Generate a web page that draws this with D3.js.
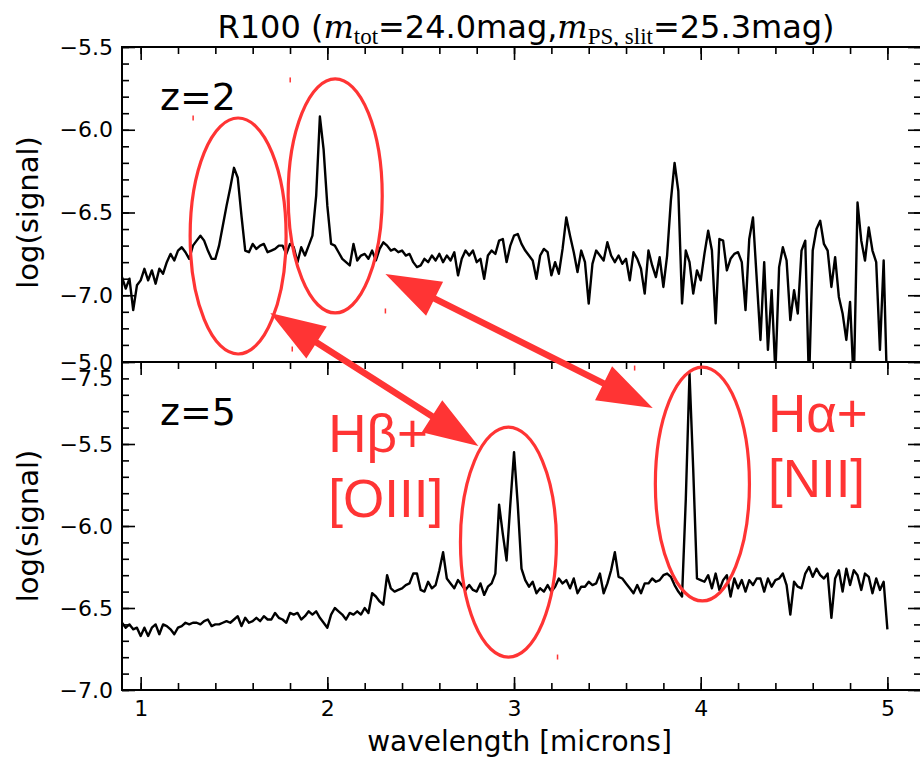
<!DOCTYPE html>
<html>
<head>
<meta charset="utf-8">
<script src="https://cdn.jsdelivr.net/npm/d3@7"></script>
<style>
  html, body { margin: 0; padding: 0; background: #fff; }
  svg { display: block; }
</style>
</head>
<body>
<div id="chart"></div>
<script>
// Wavelength grid of the R100 spectra (microns)
const wavelength = [
  0.90,0.92,0.94,0.96,0.98,1.00,1.02,1.04,1.06,1.08,1.10,1.12,1.14,1.16,1.18,1.20,1.22,1.24,1.26,1.28,
  1.30,1.32,1.34,1.36,1.38,1.40,1.42,1.44,1.46,1.48,1.50,1.52,1.54,1.56,1.58,1.60,1.62,1.64,1.66,1.68,
  1.70,1.72,1.74,1.76,1.78,1.80,1.82,1.84,1.86,1.88,1.90,1.92,1.94,1.96,1.98,2.00,2.02,2.04,2.06,2.08,
  2.10,2.12,2.14,2.16,2.18,2.20,2.22,2.24,2.26,2.28,2.30,2.32,2.34,2.36,2.38,2.40,2.42,2.44,2.46,2.48,
  2.50,2.52,2.54,2.56,2.58,2.60,2.62,2.64,2.66,2.68,2.70,2.72,2.74,2.76,2.78,2.80,2.82,2.84,2.86,2.88,
  2.90,2.92,2.94,2.96,2.98,3.00,3.02,3.04,3.06,3.08,3.10,3.12,3.14,3.16,3.18,3.20,3.22,3.24,3.26,3.28,
  3.30,3.32,3.34,3.36,3.38,3.40,3.42,3.44,3.46,3.48,3.50,3.52,3.54,3.56,3.58,3.60,3.62,3.64,3.66,3.68,
  3.70,3.72,3.74,3.76,3.78,3.80,3.82,3.84,3.86,3.88,3.90,3.92,3.94,3.96,3.98,4.00,4.02,4.04,4.06,4.08,
  4.10,4.12,4.14,4.16,4.18,4.20,4.22,4.24,4.26,4.28,4.30,4.32,4.34,4.36,4.38,4.40,4.42,4.44,4.46,4.48,
  4.50,4.52,4.54,4.56,4.58,4.60,4.62,4.64,4.66,4.68,4.70,4.72,4.74,4.76,4.78,4.80,4.82,4.84,4.86,4.88,
  4.90,4.92,4.94,4.96,4.98,5.00
];

// log(signal) at z=2
const signalZ2 = [
  -6.89,-6.96,-6.90,-7.09,-6.94,-6.91,-6.84,-6.91,-6.85,-6.93,
  -6.84,-6.87,-6.80,-6.75,-6.79,-6.73,-6.71,-6.74,-6.78,-6.70,
  -6.67,-6.64,-6.67,-6.73,-6.78,-6.78,-6.70,-6.58,-6.46,-6.35,
  -6.23,-6.29,-6.52,-6.73,-6.74,-6.69,-6.72,-6.70,-6.69,-6.74,
  -6.73,-6.72,-6.70,-6.70,-6.75,-6.69,-6.71,-6.80,-6.71,-6.76,
  -6.70,-6.64,-6.40,-5.92,-6.12,-6.46,-6.69,-6.70,-6.74,-6.78,
  -6.80,-6.82,-6.69,-6.79,-6.76,-6.75,-6.78,-6.73,-6.79,-6.72,
  -6.68,-6.70,-6.73,-6.72,-6.74,-6.73,-6.76,-6.75,-6.80,-6.83,
  -6.82,-6.78,-6.80,-6.76,-6.79,-6.75,-6.80,-6.76,-6.79,-6.74,
  -6.88,-6.78,-6.73,-6.76,-6.73,-6.80,-6.78,-6.90,-6.76,-6.73,
  -6.75,-6.67,-6.66,-6.80,-6.70,-6.64,-6.63,-6.69,-6.73,-6.76,
  -6.79,-6.90,-6.76,-6.72,-6.74,-6.88,-6.80,-6.87,-6.72,-6.53,
  -6.64,-6.74,-6.86,-6.73,-6.80,-7.05,-6.81,-6.73,-6.76,-6.79,
  -6.68,-6.76,-6.80,-6.76,-6.81,-6.78,-6.91,-6.74,-6.78,-6.84,
  -6.99,-6.73,-6.82,-6.89,-6.77,-6.95,-6.76,-6.43,-6.20,-6.37,
  -7.05,-6.73,-6.80,-6.99,-6.85,-6.91,-6.75,-6.61,-6.73,-7.17,
  -6.66,-6.67,-6.85,-6.78,-6.75,-6.74,-6.80,-7.09,-6.66,-6.53,
  -6.90,-7.27,-6.80,-7.33,-6.97,-7.47,-6.83,-6.71,-6.79,-7.15,
  -6.97,-7.11,-6.73,-6.67,-7.54,-6.73,-6.60,-6.55,-6.69,-6.73,
  -6.95,-6.77,-7.01,-7.11,-7.27,-7.04,-7.54,-6.44,-6.67,-6.79,
  -6.59,-6.73,-6.80,-7.33,-6.79,-7.64
];

// log(signal) at z=5
const signalZ5 = [
  -6.59,-6.62,-6.60,-6.63,-6.62,-6.67,-6.62,-6.67,-6.62,-6.60,
  -6.66,-6.60,-6.61,-6.63,-6.66,-6.62,-6.61,-6.59,-6.60,-6.59,
  -6.59,-6.60,-6.58,-6.57,-6.61,-6.60,-6.60,-6.59,-6.58,-6.59,
  -6.57,-6.55,-6.61,-6.56,-6.59,-6.58,-6.56,-6.58,-6.55,-6.57,
  -6.57,-6.53,-6.56,-6.57,-6.59,-6.53,-6.54,-6.53,-6.57,-6.55,
  -6.52,-6.54,-6.52,-6.56,-6.59,-6.62,-6.54,-6.50,-6.52,-6.54,
  -6.57,-6.53,-6.54,-6.52,-6.54,-6.50,-6.53,-6.41,-6.43,-6.46,
  -6.48,-6.30,-6.38,-6.40,-6.39,-6.38,-6.36,-6.35,-6.29,-6.29,
  -6.39,-6.40,-6.34,-6.38,-6.36,-6.27,-6.16,-6.32,-6.35,-6.38,
  -6.33,-6.36,-6.39,-6.36,-6.39,-6.40,-6.35,-6.42,-6.37,-6.35,
  -6.29,-5.87,-6.05,-6.21,-5.87,-5.55,-5.87,-6.26,-6.33,-6.37,
  -6.34,-6.41,-6.38,-6.40,-6.36,-6.40,-6.37,-6.32,-6.35,-6.33,
  -6.38,-6.32,-6.41,-6.37,-6.37,-6.34,-6.36,-6.35,-6.29,-6.41,
  -6.35,-6.27,-6.16,-6.31,-6.32,-6.35,-6.38,-6.41,-6.36,-6.41,
  -6.35,-6.35,-6.32,-6.34,-6.33,-6.30,-6.29,-6.31,-6.36,-6.40,
  -6.43,-5.84,-5.07,-5.66,-6.32,-6.33,-6.34,-6.30,-6.38,-6.29,
  -6.39,-6.33,-6.30,-6.43,-6.32,-6.38,-6.33,-6.40,-6.33,-6.36,
  -6.32,-6.32,-6.40,-6.32,-6.37,-6.33,-6.32,-6.29,-6.36,-6.54,
  -6.34,-6.37,-6.38,-6.29,-6.25,-6.31,-6.26,-6.30,-6.32,-6.29,
  -6.56,-6.32,-6.27,-6.40,-6.26,-6.36,-6.27,-6.30,-6.39,-6.29,
  -6.31,-6.41,-6.32,-6.39,-6.34,-6.63
];

// Axis ticks
const xMajorTicks = [1, 2, 3, 4, 5];
const yTopTicks = [-7.5, -7.0, -6.5, -6.0, -5.5];
const yBottomTicks = [-7.0, -6.5, -6.0, -5.5, -5.0];

// Highlighted emission-line groups: panel, centre (µm, dex), half-width (µm), half-height (dex)
const lineRings = [
  { panel: "top",    w: 1.522, v: -6.642, rw: 0.257, rv: 0.713 },
  { panel: "top",    w: 2.042, v: -6.400, rw: 0.252, rv: 0.707 },
  { panel: "bottom", w: 2.970, v: -6.098, rw: 0.257, rv: 0.701 },
  { panel: "bottom", w: 4.009, v: -5.744, rw: 0.252, rv: 0.713 }
];

// Redshift links between the same line groups at z=2 and z=5
const lineLinks = [
  { from: { panel: "top", w: 1.694, v: -7.107 }, to: { panel: "bottom", w: 2.809, v: -5.512 } },
  { from: { panel: "top", w: 2.311, v: -6.872 }, to: { panel: "bottom", w: 3.743, v: -5.280 } }
];

const lineNames = [
  { panel: "bottom", w: 2.005, v: -5.549, lines: ["H\u03B2+", "[OIII]"] },
  { panel: "bottom", w: 4.360, v: -5.427, lines: ["H\u03B1+", "[NII]"] }
];

// Small stray pen marks on the slide
const penDots = [
  { panel: "top", w: 1.801, v: -5.699 },
  { panel: "top", w: 1.281, v: -5.929 },
  { panel: "top", w: 2.311, v: -7.095 },
  { panel: "top", w: 1.812, v: -7.325 },
  { panel: "bottom", w: 3.646, v: -5.037 },
  { panel: "bottom", w: 3.233, v: -6.799 }
];

const W = 920, H = 758;
const red = "#ff3434";
const font = "'DejaVu Sans', sans-serif";

const x = d3.scaleLinear().domain([0.9, 5.18]).range([122, 921]);
const yTop = d3.scaleLinear().domain([-7.5, -5.5]).range([378, 47]);
const yBottom = d3.scaleLinear().domain([-7.0, -5.0]).range([690, 362]);
const yOf = p => (p === "top" ? yTop : yBottom);

const svg = d3.select("#chart").append("svg")
  .attr("width", W).attr("height", H)
  .attr("viewBox", `0 0 ${W} ${H}`);

const fmtY = d3.format(".1f");

function drawPanel(y, values, yTicks, showXLabels, zLabel) {
  const [x0, x1] = x.range();
  const [yb, yt] = y.range();
  const g = svg.append("g");

  g.append("rect")
    .attr("x", x0).attr("y", yt).attr("width", x1 - x0).attr("height", yb - yt)
    .attr("fill", "#fff");

  const clipId = "clip" + Math.round(yt);
  g.append("clipPath").attr("id", clipId)
    .append("rect").attr("x", x0).attr("y", yt).attr("width", x1 - x0).attr("height", yb - yt);

  const line = d3.line()
    .x((d, i) => x(wavelength[i]))
    .y(d => y(d));

  g.append("path")
    .datum(values)
    .attr("clip-path", `url(#${clipId})`)
    .attr("fill", "none")
    .attr("stroke", "#000")
    .attr("stroke-width", 2.4)
    .attr("stroke-linejoin", "round")
    .attr("d", line);

  const yMinor = d3.range(Math.round(y.domain()[0] * 10), Math.round(y.domain()[1] * 10) + 1).map(d => d / 10);
  const xMinor = d3.range(5, 26).map(d => d / 5);

  const styleAxis = a => {
    a.select(".domain").remove();
    a.selectAll("line").attr("stroke", "#000").attr("stroke-width", 1.6);
    a.selectAll("text").attr("font-family", font).attr("font-size", 22).attr("fill", "#000");
  };

  // left / right
  g.append("g").attr("transform", `translate(${x0},0)`)
    .call(d3.axisLeft(y).tickValues(yTicks).tickSize(-13).tickPadding(9).tickFormat(fmtY)).call(styleAxis);
  g.append("g").attr("transform", `translate(${x0},0)`)
    .call(d3.axisLeft(y).tickValues(yMinor).tickSize(-7).tickFormat("")).call(styleAxis);
  g.append("g").attr("transform", `translate(${x1},0)`)
    .call(d3.axisRight(y).tickValues(yTicks).tickSize(-13).tickFormat("")).call(styleAxis);
  g.append("g").attr("transform", `translate(${x1},0)`)
    .call(d3.axisRight(y).tickValues(yMinor).tickSize(-7).tickFormat("")).call(styleAxis);

  // top / bottom
  g.append("g").attr("transform", `translate(0,${yt})`)
    .call(d3.axisTop(x).tickValues(xMajorTicks).tickSize(-13).tickFormat("")).call(styleAxis);
  g.append("g").attr("transform", `translate(0,${yt})`)
    .call(d3.axisTop(x).tickValues(xMinor).tickSize(-7).tickFormat("")).call(styleAxis);
  g.append("g").attr("transform", `translate(0,${yb})`)
    .call(d3.axisBottom(x).tickValues(xMajorTicks).tickSize(-13).tickPadding(10)
      .tickFormat(showXLabels ? d3.format("d") : "")).call(styleAxis);
  g.append("g").attr("transform", `translate(0,${yb})`)
    .call(d3.axisBottom(x).tickValues(xMinor).tickSize(-7).tickFormat("")).call(styleAxis);

  g.append("rect")
    .attr("x", x0).attr("y", yt).attr("width", x1 - x0).attr("height", yb - yt)
    .attr("fill", "none").attr("stroke", "#000").attr("stroke-width", 2);

  g.append("text")
    .attr("x", x0 + 38).attr("y", yt + 63)
    .attr("font-family", font).attr("font-size", 38).attr("fill", "#000")
    .text(zLabel);

  g.append("text")
    .attr("transform", `translate(${x0 - 84},${(yt + yb) / 2}) rotate(-90)`)
    .attr("text-anchor", "middle")
    .attr("font-family", font).attr("font-size", 29).attr("fill", "#000")
    .text("log(signal)");
  return g;
}

drawPanel(yTop, signalZ2, yTopTicks, false, "z=2");
drawPanel(yBottom, signalZ5, yBottomTicks, true, "z=5");

// x-axis label
svg.append("text")
  .attr("x", (x.range()[0] + x.range()[1]) / 2 - 2).attr("y", 751)
  .attr("text-anchor", "middle")
  .attr("font-family", font).attr("font-size", 28).attr("fill", "#000")
  .text("wavelength [microns]");

// title with math-style magnitudes
const title = svg.append("text")
  .attr("x", 526).attr("y", 38)
  .attr("text-anchor", "middle")
  .attr("font-family", font).attr("font-size", 32).attr("fill", "#000");
const mathFont = "'DejaVu Serif', serif";
const subFont = "'Liberation Serif', serif";
title.append("tspan").text("R100 (");
title.append("tspan").attr("font-family", mathFont).attr("font-style", "italic").text("m");
title.append("tspan").attr("font-family", subFont).attr("font-size", 23).attr("dy", 6).text("tot");
title.append("tspan").attr("dy", -6).text("=24.0mag,");
title.append("tspan").attr("font-family", mathFont).attr("font-style", "italic").text("m");
title.append("tspan").attr("font-family", subFont).attr("font-size", 23).attr("dy", 6).text("PS, slit");
title.append("tspan").attr("dy", -6).text("=25.3mag)");

// annotation layer
const ann = svg.append("g");

lineRings.forEach(r => {
  const y = yOf(r.panel);
  const cx = x(r.w), cy = y(r.v);
  ann.append("ellipse")
    .attr("cx", cx).attr("cy", cy)
    .attr("rx", x(r.w + r.rw) - cx)
    .attr("ry", cy - y(r.v + r.rv))
    .attr("fill", "none").attr("stroke", red).attr("stroke-width", 3.2);
});

function doubleArrow(p1, p2, shaft, headLen, headHalf) {
  const dx = p2[0] - p1[0], dy = p2[1] - p1[1];
  const len = Math.hypot(dx, dy);
  const ux = dx / len, uy = dy / len, nx = -uy, ny = ux;
  const at = (p, a, b) => [p[0] + ux * a + nx * b, p[1] + uy * a + ny * b];
  const s = shaft / 2;
  return [
    p1, at(p1, headLen, headHalf), at(p1, headLen, s), at(p2, -headLen, s), at(p2, -headLen, headHalf),
    p2, at(p2, -headLen, -headHalf), at(p2, -headLen, -s), at(p1, headLen, -s), at(p1, headLen, -headHalf)
  ];
}

lineLinks.forEach(l => {
  const p1 = [x(l.from.w), yOf(l.from.panel)(l.from.v)];
  const p2 = [x(l.to.w), yOf(l.to.panel)(l.to.v)];
  ann.append("polygon")
    .attr("points", doubleArrow(p1, p2, 6.5, 55, 19).map(p => p.join(",")).join(" "))
    .attr("fill", red);
});

lineNames.forEach(n => {
  const t = ann.append("text")
    .attr("x", x(n.w)).attr("y", yOf(n.panel)(n.v))
    .attr("font-family", "'Liberation Sans', Arial, sans-serif")
    .attr("font-size", 53).attr("fill", red);
  n.lines.forEach((s, i) => {
    t.append("tspan").attr("x", x(n.w)).attr("dy", i === 0 ? 0 : 65).text(s);
  });
});

penDots.forEach(d => {
  const px = x(d.w), py = yOf(d.panel)(d.v);
  ann.append("rect")
    .attr("x", px - 0.75).attr("y", py - 2.5).attr("width", 1.5).attr("height", 5)
    .attr("fill", red);
});
</script>
</body>
</html>
